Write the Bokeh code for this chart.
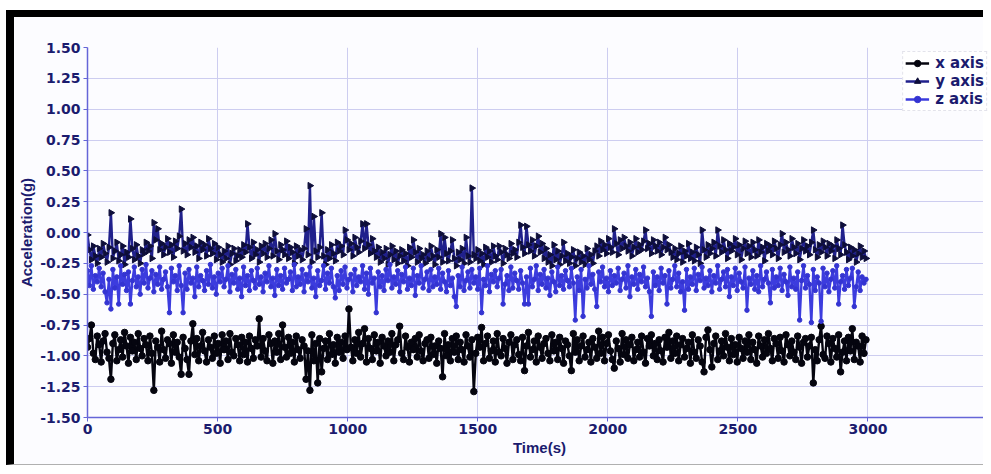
from bokeh.plotting import figure
from bokeh.models import Range1d, FixedTicker, NumeralTickFormatter, Legend, LegendItem, ColumnDataSource
from bokeh.embed import file_html
from bokeh.resources import INLINE
import math

# ---------------- data ----------------
time_s = [i * 7.5 for i in range(400)]

x_axis = [
    -0.93, -0.86, -0.75, -0.98, -1.03, -0.84, -0.91, -1.05, -0.88, -0.82,
    -0.97, -1.02, -1.19, -0.90, -0.83, -1.04, -0.95, -0.87, -1.01, -0.81,
    -0.92, -1.06, -0.85, -0.96, -0.89, -1.03, -0.82, -0.94, -1.00, -0.86,
    -0.91, -1.04, -0.84, -0.98, -1.28, -0.88, -0.93, -1.05, -0.80, -0.95,
    -1.02, -0.87, -0.90, -1.06, -0.83, -0.97, -0.89, -1.01, -1.15, -0.85,
    -0.94, -1.03, -1.15, -0.88, -0.74, -0.99, -0.86, -1.04, -0.92, -0.81,
    -0.96, -1.05, -0.87, -0.93, -1.02, -0.84, -0.98, -0.90, -1.06, -0.83,
    -0.95, -0.88, -1.03, -0.82, -0.97, -1.00, -0.86, -0.91, -1.04, -0.85,
    -0.99, -0.89, -1.05, -0.84, -0.94, -1.02, -0.87, -0.92, -0.70, -1.01,
    -0.86, -0.96, -1.04, -0.83, -0.90, -1.06, -0.88, -0.97, -0.82, -1.03,
    -0.75, -0.93, -1.01, -0.85, -0.98, -0.89, -1.05, -0.84, -0.95, -1.02,
    -0.87, -0.92, -1.19, -0.96, -1.28, -0.83, -1.04, -0.90, -1.22, -0.86,
    -1.13, -0.94, -0.88, -1.03, -0.82, -0.99, -0.91, -1.06, -0.85, -0.97,
    -0.89, -1.02, -0.84, -0.95, -0.62, -0.93, -1.04, -0.87, -0.98, -0.81,
    -1.01, -0.90, -0.78, -1.05, -0.86, -0.94, -1.03, -0.83, -0.96, -0.89,
    -1.06, -0.85, -0.92, -1.00, -0.88, -0.97, -0.82, -1.04, -0.91, -0.87,
    -0.76, -0.98, -1.03, -0.84, -0.93, -1.05, -0.89, -0.95, -0.86, -1.01,
    -0.83, -0.96, -1.04, -0.90, -0.87, -1.02, -0.85, -0.99, -0.92, -1.06,
    -0.88, -0.94, -1.17, -0.82, -1.00, -0.91, -1.04, -0.86, -0.97, -0.84,
    -1.03, -0.89, -0.95, -1.05, -0.83, -0.92, -1.01, -0.87, -1.29, -0.98,
    -0.85, -0.93, -0.77, -1.04, -0.90, -0.84, -1.02, -0.96, -0.88, -1.05,
    -0.82, -0.97, -1.00, -0.86, -0.94, -1.06, -0.89, -0.83, -1.03, -0.91,
    -0.87, -0.99, -1.04, -0.85, -1.12, -0.92, -0.81, -1.01, -0.95, -0.88,
    -1.05, -0.84, -0.93, -1.02, -0.90, -0.86, -0.98, -1.04, -0.83, -0.96,
    -0.89, -1.03, -0.85, -0.94, -1.06, -0.88, -0.91, -1.00, -1.12, -0.82,
    -0.97, -0.87, -1.04, -0.92, -0.84, -1.01, -0.95, -0.89, -1.05, -0.86,
    -0.93, -1.02, -0.80, -0.98, -0.85, -1.04, -0.90, -0.83, -0.96, -1.03,
    -1.10, -0.88, -0.94, -1.05, -0.82, -0.99, -0.87, -1.02, -0.91, -0.85,
    -1.04, -0.95, -0.89, -1.01, -0.84, -0.97, -1.06, -0.86, -0.92, -0.83,
    -1.00, -0.90, -1.03, -0.87, -0.96, -1.05, -0.85, -0.93, -0.81, -1.02,
    -0.88, -0.98, -0.84, -1.04, -0.91, -0.86, -1.01, -0.94, -0.89, -1.06,
    -0.83, -0.97, -1.02, -0.87, -0.92, -1.05, -1.13, -0.85, -0.79, -0.95,
    -1.09, -0.90, -0.84, -1.03, -0.96, -0.88, -1.00, -0.82, -0.93, -1.04,
    -0.86, -0.99, -0.91, -1.05, -0.85, -0.94, -1.02, -0.88, -0.97, -0.83,
    -1.03, -0.89, -0.95, -1.06, -0.84, -0.92, -1.01, -0.87, -0.98, -0.82,
    -0.94, -1.04, -0.86, -0.90, -1.02, -0.85, -0.96, -1.05, -0.83, -0.91,
    -1.00, -0.88, -0.97, -1.03, -0.84, -0.93, -1.06, -0.89, -0.86, -1.01,
    -0.92, -0.85, -1.22, -0.95, -1.04, -0.87, -0.76, -0.99, -1.02, -0.84,
    -0.90, -1.05, -0.86, -0.94, -1.01, -0.83, -1.13, -0.97, -0.88, -1.04,
    -0.85, -0.96, -0.78, -1.03, -0.89, -0.92, -1.05, -0.84, -0.98, -0.87,
]

y_axis = [
    -0.02, -0.14, -0.22, -0.11, -0.19, -0.25, -0.13, -0.20, -0.09, -0.17,
    -0.24, -0.12, 0.16, -0.21, -0.15, -0.08, -0.23, -0.18, -0.11, -0.26,
    -0.16, -0.20, 0.11, -0.13, -0.22, -0.10, -0.19, -0.25, -0.14, -0.17,
    -0.08, -0.15, -0.11, -0.21, 0.08, -0.06, 0.03, -0.14, -0.09, -0.18,
    -0.12, -0.05, -0.16, -0.10, -0.20, -0.07, -0.13, -0.03, 0.19, -0.15,
    -0.09, -0.18, -0.06, -0.12, -0.04, -0.16, -0.11, -0.21, -0.08, -0.14,
    -0.10, -0.19, -0.05, -0.13, -0.17, -0.09, -0.22, -0.12, -0.18, -0.24,
    -0.15, -0.21, -0.11, -0.26, -0.17, -0.13, -0.23, -0.19, -0.14, -0.20,
    -0.10, -0.16, 0.07, -0.12, -0.21, -0.08, -0.18, -0.14, -0.24, -0.11,
    -0.17, -0.09, -0.20, -0.13, -0.06, -0.19, -0.01, -0.15, -0.22, -0.10,
    -0.14, -0.18, -0.07, -0.21, -0.12, -0.16, -0.25, -0.11, -0.19, -0.14,
    -0.22, -0.13, 0.03, -0.18, 0.38, -0.24, 0.13, -0.15, -0.20, -0.12,
    0.16, -0.19, -0.26, -0.14, -0.21, -0.10, -0.17, -0.23, -0.08, -0.15,
    -0.11, -0.18, 0.02, -0.06, -0.14, -0.09, -0.19, -0.04, -0.12, -0.16,
    -0.07, 0.07, -0.13, 0.07, -0.10, -0.17, -0.05, -0.15, -0.20, -0.12,
    -0.24, -0.16, -0.21, -0.13, -0.26, -0.18, -0.11, -0.22, -0.15, -0.25,
    -0.19, -0.14, -0.23, -0.17, -0.27, -0.12, -0.20, -0.06, -0.16, -0.24,
    -0.13, -0.21, -0.18, -0.25, -0.15, -0.22, -0.11, -0.19, -0.26, -0.14,
    -0.20, -0.01, -0.24, -0.04, -0.17, -0.23, -0.15, -0.06, -0.21, -0.27,
    -0.16, -0.22, -0.13, -0.25, -0.04, -0.19, -0.24, 0.36, -0.18, -0.21,
    -0.14, -0.23, -0.17, -0.26, -0.12, -0.20, -0.15, -0.24, -0.11, -0.19,
    -0.22, -0.11, -0.16, -0.25, -0.13, -0.18, -0.21, -0.09, -0.17, -0.14,
    -0.20, -0.08, 0.06, -0.12, -0.17, 0.05, -0.10, -0.15, -0.06, -0.19,
    -0.11, -0.03, -0.16, -0.09, -0.21, -0.13, -0.24, -0.18, -0.27, -0.10,
    -0.22, -0.15, -0.26, -0.19, -0.08, -0.23, -0.17, -0.25, -0.20, -0.14,
    -0.27, -0.21, -0.16, -0.24, -0.19, -0.26, -0.13, -0.22, -0.18, -0.25,
    -0.15, -0.11, -0.19, -0.07, -0.14, -0.10, -0.17, -0.05, -0.12, -0.16,
    0.03, -0.09, -0.18, -0.06, -0.13, -0.04, -0.11, -0.15, -0.08, -0.19,
    -0.12, -0.05, -0.16, -0.10, -0.14, -0.07, 0.02, -0.13, -0.09, -0.17,
    -0.06, -0.11, -0.15, -0.08, -0.18, -0.12, -0.04, -0.14, -0.10, -0.16,
    -0.20, -0.13, -0.22, -0.17, -0.11, -0.24, -0.15, -0.19, -0.09, -0.21,
    -0.16, -0.23, -0.12, -0.18, -0.25, 0.02, -0.14, -0.20, -0.10, -0.17,
    -0.13, -0.08, -0.19, 0.02, -0.11, -0.16, -0.06, -0.14, -0.21, -0.09,
    -0.15, -0.12, -0.05, -0.18, -0.10, -0.22, -0.13, -0.07, -0.17, -0.11,
    -0.20, -0.08, -0.14, -0.19, -0.06, -0.16, -0.12, -0.23, -0.09, -0.15,
    -0.11, -0.18, -0.07, -0.13, -0.21, -0.10, -0.01, -0.16, -0.08, -0.14,
    -0.19, -0.05, -0.12, -0.17, -0.09, -0.22, -0.13, -0.06, -0.15, -0.11,
    -0.18, -0.08, 0.02, -0.14, -0.20, -0.10, -0.16, -0.07, -0.12, -0.19,
    -0.09, -0.15, -0.11, -0.21, -0.06, -0.13, -0.18, 0.06, -0.10, -0.16,
    -0.22, -0.12, -0.19, -0.14, -0.24, -0.17, -0.11, -0.20, -0.15, -0.21,
]

z_axis = [
    -0.31, -0.43, -0.27, -0.46, -0.35, -0.40, -0.29, -0.44, -0.33, -0.48,
    -0.57, -0.38, -0.62, -0.30, -0.45, -0.36, -0.58, -0.27, -0.42, -0.34,
    -0.47, -0.32, -0.58, -0.39, -0.28, -0.44, -0.36, -0.50, -0.30, -0.41,
    -0.26, -0.45, -0.37, -0.31, -0.48, -0.34, -0.42, -0.28, -0.46, -0.38,
    -0.32, -0.44, -0.65, -0.29, -0.40, -0.35, -0.47, -0.27, -0.43, -0.65,
    -0.33, -0.46, -0.30, -0.41, -0.37, -0.52, -0.28, -0.44, -0.35, -0.39,
    -0.47, -0.31, -0.42, -0.26, -0.45, -0.36, -0.50, -0.33, -0.40, -0.29,
    -0.44, -0.38, -0.27, -0.48, -0.34, -0.41, -0.30, -0.46, -0.37, -0.52,
    -0.28, -0.43, -0.35, -0.47, -0.31, -0.39, -0.45, -0.29, -0.42, -0.36,
    -0.48, -0.33, -0.40, -0.27, -0.44, -0.37, -0.51, -0.30, -0.43, -0.35,
    -0.46, -0.29, -0.41, -0.38, -0.32, -0.47, -0.26, -0.44, -0.36, -0.42,
    -0.30, -0.48, -0.34, -0.40, -0.28, -0.45, -0.37, -0.52, -0.31, -0.43,
    -0.39, -0.27, -0.46, -0.33, -0.41, -0.29, -0.44, -0.53, -0.35, -0.47,
    -0.31, -0.42, -0.28, -0.45, -0.38, -0.34, -0.48, -0.30, -0.43, -0.36,
    -0.40, -0.27, -0.46, -0.33, -0.50, -0.29, -0.41, -0.37, -0.65, -0.32,
    -0.44, -0.35, -0.47, -0.30, -0.39, -0.26, -0.45, -0.36, -0.42, -0.31,
    -0.48, -0.34, -0.40, -0.28, -0.46, -0.37, -0.43, -0.29, -0.51, -0.35,
    -0.41, -0.27, -0.45, -0.38, -0.32, -0.47, -0.30, -0.44, -0.36, -0.42,
    -0.29, -0.46, -0.33, -0.40, -0.48, -0.31, -0.43, -0.37, -0.52, -0.60,
    -0.35, -0.44, -0.28, -0.47, -0.39, -0.32, -0.45, -0.30, -0.41, -0.36,
    -0.46, -0.29, -0.65, -0.38, -0.43, -0.27, -0.48, -0.34, -0.40, -0.31,
    -0.44, -0.37, -0.30, -0.58, -0.42, -0.35, -0.47, -0.28, -0.45, -0.33,
    -0.39, -0.46, -0.31, -0.41, -0.58, -0.36, -0.58, -0.29, -0.44, -0.38,
    -0.27, -0.47, -0.34, -0.42, -0.30, -0.45, -0.37, -0.51, -0.32, -0.40,
    -0.48, -0.28, -0.43, -0.35, -0.46, -0.31, -0.39, -0.44, -0.29, -0.41,
    -0.71, -0.36, -0.47, -0.30, -0.68, -0.38, -0.45, -0.27, -0.42, -0.34,
    -0.46, -0.60, -0.32, -0.40, -0.28, -0.44, -0.37, -0.48, -0.31, -0.43,
    -0.35, -0.41, -0.29, -0.47, -0.38, -0.33, -0.45, -0.27, -0.52, -0.36,
    -0.42, -0.30, -0.46, -0.34, -0.40, -0.28, -0.44, -0.37, -0.48, -0.68,
    -0.32, -0.43, -0.36, -0.47, -0.29, -0.41, -0.35, -0.58, -0.31, -0.45,
    -0.38, -0.27, -0.44, -0.33, -0.48, -0.40, -0.63, -0.30, -0.46, -0.36,
    -0.42, -0.29, -0.47, -0.34, -0.39, -0.28, -0.45, -0.37, -0.43, -0.31,
    -0.48, -0.35, -0.41, -0.27, -0.46, -0.38, -0.32, -0.44, -0.30, -0.52,
    -0.36, -0.43, -0.29, -0.47, -0.33, -0.40, -0.45, -0.28, -0.63, -0.37,
    -0.42, -0.31, -0.46, -0.35, -0.48, -0.27, -0.44, -0.38, -0.32, -0.41,
    -0.57, -0.30, -0.45, -0.36, -0.43, -0.29, -0.47, -0.34, -0.40, -0.51,
    -0.28, -0.44, -0.37, -0.46, -0.32, -0.71, -0.39, -0.27, -0.45, -0.35,
    -0.42, -0.73, -0.30, -0.47, -0.36, -0.41, -0.72, -0.29, -0.44, -0.33,
    -0.48, -0.38, -0.31, -0.45, -0.27, -0.58, -0.40, -0.35, -0.46, -0.30,
    -0.43, -0.37, -0.29, -0.60, -0.44, -0.32, -0.47, -0.36, -0.41, -0.38,
]

series_names = ["x axis", "y axis", "z axis"]
y_ticks = [-1.5, -1.25, -1.0, -0.75, -0.5, -0.25, 0.0, 0.25, 0.5, 0.75, 1.0, 1.25, 1.5]
x_ticks = [0, 500, 1000, 1500, 2000, 2500, 3000]

# ---------------- styles ----------------
NAVY = "#1b1b6e"
AXIS_BLUE = "#6565d8"
GRID = "#cdcdf0"
BG = "#fcfcff"
TICK_FONT = "DejaVu Sans"
LABEL_FONT = "Liberation Sans"

p = figure(
    width=977, height=455,
    x_range=Range1d(0, 3475), y_range=Range1d(-1.5, 1.5),
    output_backend="svg", toolbar_location=None,
    min_border_left=73, min_border_right=0, min_border_top=30, min_border_bottom=55,
    background_fill_color=BG, border_fill_color=BG,
)
p.styles = {
    "border-top": "7px solid black",
    "border-left": "8px solid black",
    "border-bottom": "1px solid #b0b0b0",
    "margin-left": "6px",
    "margin-top": "10px",
}
p.outline_line_color = None

src = ColumnDataSource(dict(t=time_s, x=x_axis, y=y_axis, z=z_axis))

rx_l = p.line("t", "x", source=src, line_color="#05050f", line_width=2.4)
rx_m = p.scatter("t", "x", source=src, marker="circle", size=6.5, fill_color="#05050f", line_color="#05050f")

ry_l = p.line("t", "y", source=src, line_color="#20208c", line_width=2.4)
ry_m = p.scatter("t", "y", source=src, marker="triangle", angle=-math.pi / 2, size=6.5,
                 fill_color="#0e0e3a", line_color="#0e0e3a")

rz_l = p.line("t", "z", source=src, line_color="#3c3cde", line_width=2.4)
rz_m = p.scatter("t", "z", source=src, marker="circle", size=4.5, fill_color="#3434d2", line_color="#3434d2")

legend = Legend(items=[
    LegendItem(label=series_names[0], renderers=[rx_l, rx_m]),
    LegendItem(label=series_names[1], renderers=[ry_l, ry_m]),
    LegendItem(label=series_names[2], renderers=[rz_l, rz_m]),
], location="top_right")
legend.margin = 4
legend.padding = 2
legend.spacing = 0
legend.label_height = 16
legend.glyph_height = 16
legend.glyph_width = 24
legend.label_standoff = 6
legend.label_text_font = TICK_FONT
legend.label_text_font_style = "bold"
legend.label_text_font_size = "15px"
legend.label_text_color = NAVY
legend.border_line_color = "#c8c8d8"
legend.border_line_dash = "2 1"
legend.background_fill_color = "white"
legend.background_fill_alpha = 1.0
p.add_layout(legend)

# axes
for ax in (p.xaxis[0], p.yaxis[0]):
    ax.axis_line_color = AXIS_BLUE
    ax.axis_line_width = 1.5
    ax.major_tick_line_color = AXIS_BLUE
    ax.major_tick_out = 4
    ax.major_tick_in = 0
    ax.minor_tick_line_color = None
    ax.major_label_text_font = TICK_FONT
    ax.major_label_text_font_style = "bold"
    ax.major_label_text_font_size = "14px"
    ax.major_label_text_color = NAVY
    ax.axis_label_text_font = LABEL_FONT
    ax.axis_label_text_font_style = "bold"
    ax.axis_label_text_font_size = "15px"
    ax.axis_label_text_color = NAVY

p.xaxis.ticker = FixedTicker(ticks=x_ticks)
p.yaxis.ticker = FixedTicker(ticks=y_ticks)
p.yaxis.formatter = NumeralTickFormatter(format="0.00")
p.xaxis.major_label_standoff = 2
p.yaxis.major_label_standoff = 3
p.xaxis.axis_label = "Time(s)"
p.yaxis.axis_label = "Acceleration(g)"
p.xaxis.axis_label_standoff = 2
p.yaxis.axis_label_standoff = 2

p.grid.grid_line_color = GRID
p.grid.grid_line_width = 1

open("out.html", "w").write(file_html(p, INLINE))
